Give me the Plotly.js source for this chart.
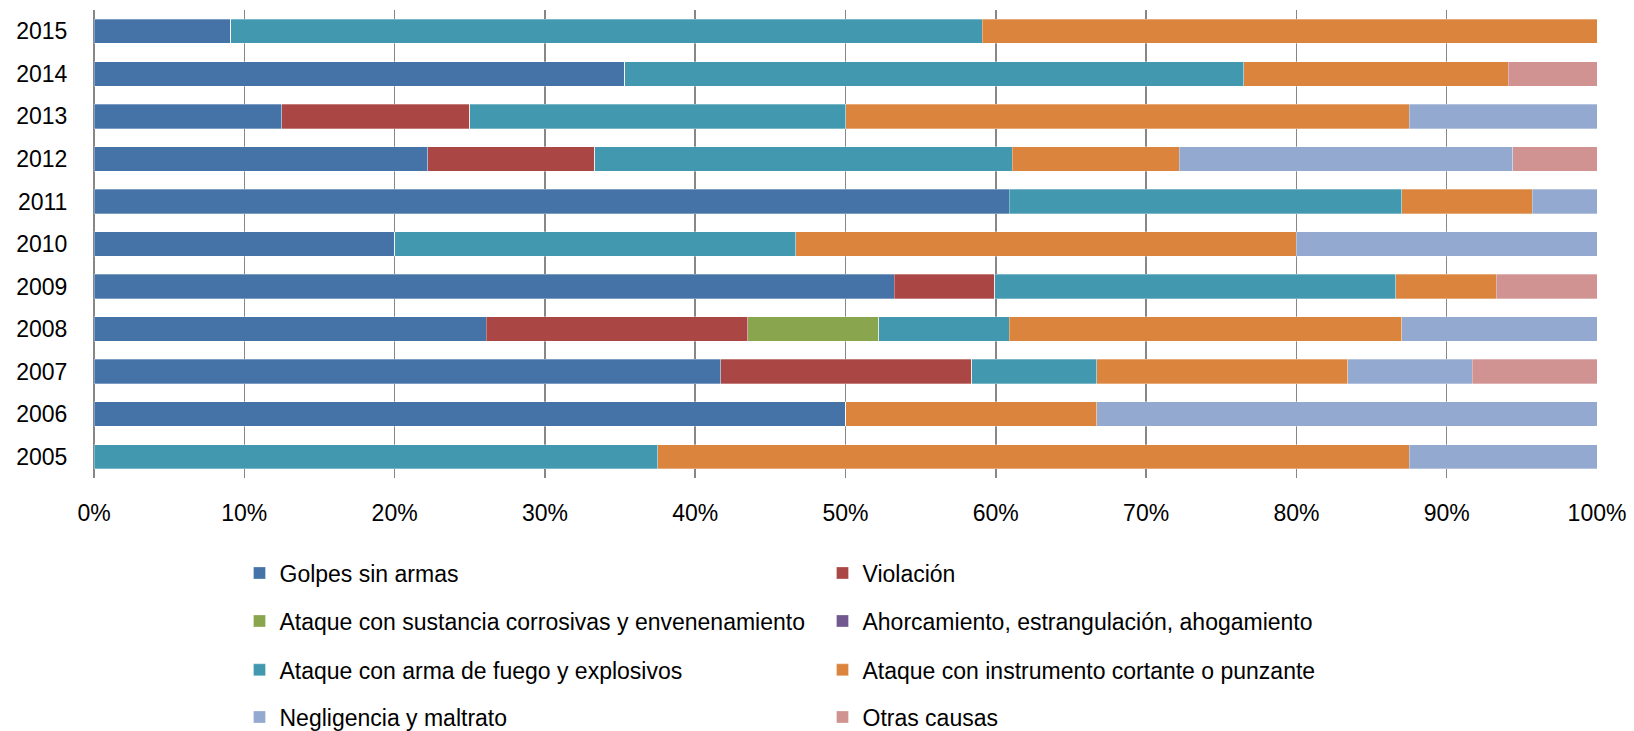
<!DOCTYPE html>
<html>
<head>
<meta charset="utf-8">
<script src="https://cdn.plot.ly/plotly-3.0.1.min.js"></script>
<style>html,body{margin:0;padding:0;background:#fff;}#chart{width:1634px;height:731px;}</style>
</head>
<body>
<div id="chart"></div>
<script>
const years = ["2005","2006","2007","2008","2009","2010","2011","2012","2013","2014","2015"];

const golpesSinArmas      = [0, 50.0, 41.7, 26.1, 53.3, 20.0, 60.9, 22.2, 12.5, 35.3, 9.1];
const violacion           = [0, 0, 16.7, 17.4, 6.7, 0, 0, 11.1, 12.5, 0, 0];
const sustanciaCorrosiva  = [0, 0, 0, 8.7, 0, 0, 0, 0, 0, 0, 0];
const ahorcamiento        = [0, 0, 0, 0, 0, 0, 0, 0, 0, 0, 0];
const armaFuego           = [37.5, 0, 8.3, 8.7, 26.7, 26.7, 26.1, 27.8, 25.0, 41.2, 50.0];
const instrumentoCortante = [50.0, 16.7, 16.7, 26.1, 6.7, 33.3, 8.7, 11.1, 37.5, 17.6, 40.9];
const negligencia         = [12.5, 33.3, 8.3, 13.0, 0, 20.0, 4.3, 22.2, 12.5, 0, 0];
const otrasCausas         = [0, 0, 8.3, 0, 6.7, 0, 0, 5.6, 0, 5.9, 0];

const seriesNames = [
  "Golpes sin armas",
  "Violación",
  "Ataque con sustancia corrosivas y envenenamiento",
  "Ahorcamiento, estrangulación, ahogamiento",
  "Ataque con arma de fuego y explosivos",
  "Ataque con instrumento cortante o punzante",
  "Negligencia y maltrato",
  "Otras causas"
];
const seriesValues = [golpesSinArmas, violacion, sustanciaCorrosiva, ahorcamiento,
  armaFuego, instrumentoCortante, negligencia, otrasCausas];
const seriesColors = ["#4572A7","#AA4643","#89A54E","#71588F","#4198AF","#DB843D","#93A9CF","#D19392"];
const legendIds = ["legend","legend","legend2","legend2","legend3","legend3","legend4","legend4"];

const traces = seriesNames.map((name, i) => ({
  type: "bar",
  orientation: "h",
  name: name,
  y: years,
  x: seriesValues[i],
  legend: legendIds[i],
  marker: {color: seriesColors[i], line: {color: "rgba(255,255,255,0.5)", width: 0.6}},
  hoverinfo: "name+x"
}));

const FONT = "'Liberation Sans', Arial, sans-serif";
function legendRow(yPos) {
  return {
    orientation: "h", x: 0.0968, xanchor: "left", y: yPos, yanchor: "middle",
    entrywidth: 538, traceorder: "normal",
    font: {family: FONT, size: 23, color: "#000"},
    bgcolor: "rgba(0,0,0,0)", borderwidth: 0
  };
}

const layout = {
  width: 1634, height: 731,
  margin: {l: 94, r: 37, t: 10, b: 253, autoexpand: false},
  paper_bgcolor: "#fff", plot_bgcolor: "#fff",
  barmode: "stack", barnorm: "percent", bargap: 0.426,
  font: {family: FONT, size: 23, color: "#000"},
  showlegend: true,
  xaxis: {
    range: [0, 100], dtick: 10, tick0: 0, ticksuffix: "%",
    showgrid: true, gridcolor: "#878787", gridwidth: 1.6,
    zeroline: true, zerolinecolor: "#878787", zerolinewidth: 1.6,
    showline: false,
    ticks: "outside", ticklen: 14, tickcolor: "rgba(0,0,0,0)",
    tickfont: {family: FONT, size: 23, color: "#000"},
    fixedrange: true
  },
  yaxis: {
    type: "category", categoryorder: "array", categoryarray: years,
    showgrid: false, zeroline: false, showline: false,
    ticks: "outside", ticklen: 21, tickcolor: "rgba(0,0,0,0)",
    tickfont: {family: FONT, size: 23, color: "#000"},
    fixedrange: true
  },
  legend: legendRow(-0.203),
  legend2: legendRow(-0.3056),
  legend3: legendRow(-0.410),
  legend4: legendRow(-0.5107)
};

Plotly.newPlot("chart", traces, layout, {displayModeBar: false, staticPlot: true});
</script>
</body>
</html>
